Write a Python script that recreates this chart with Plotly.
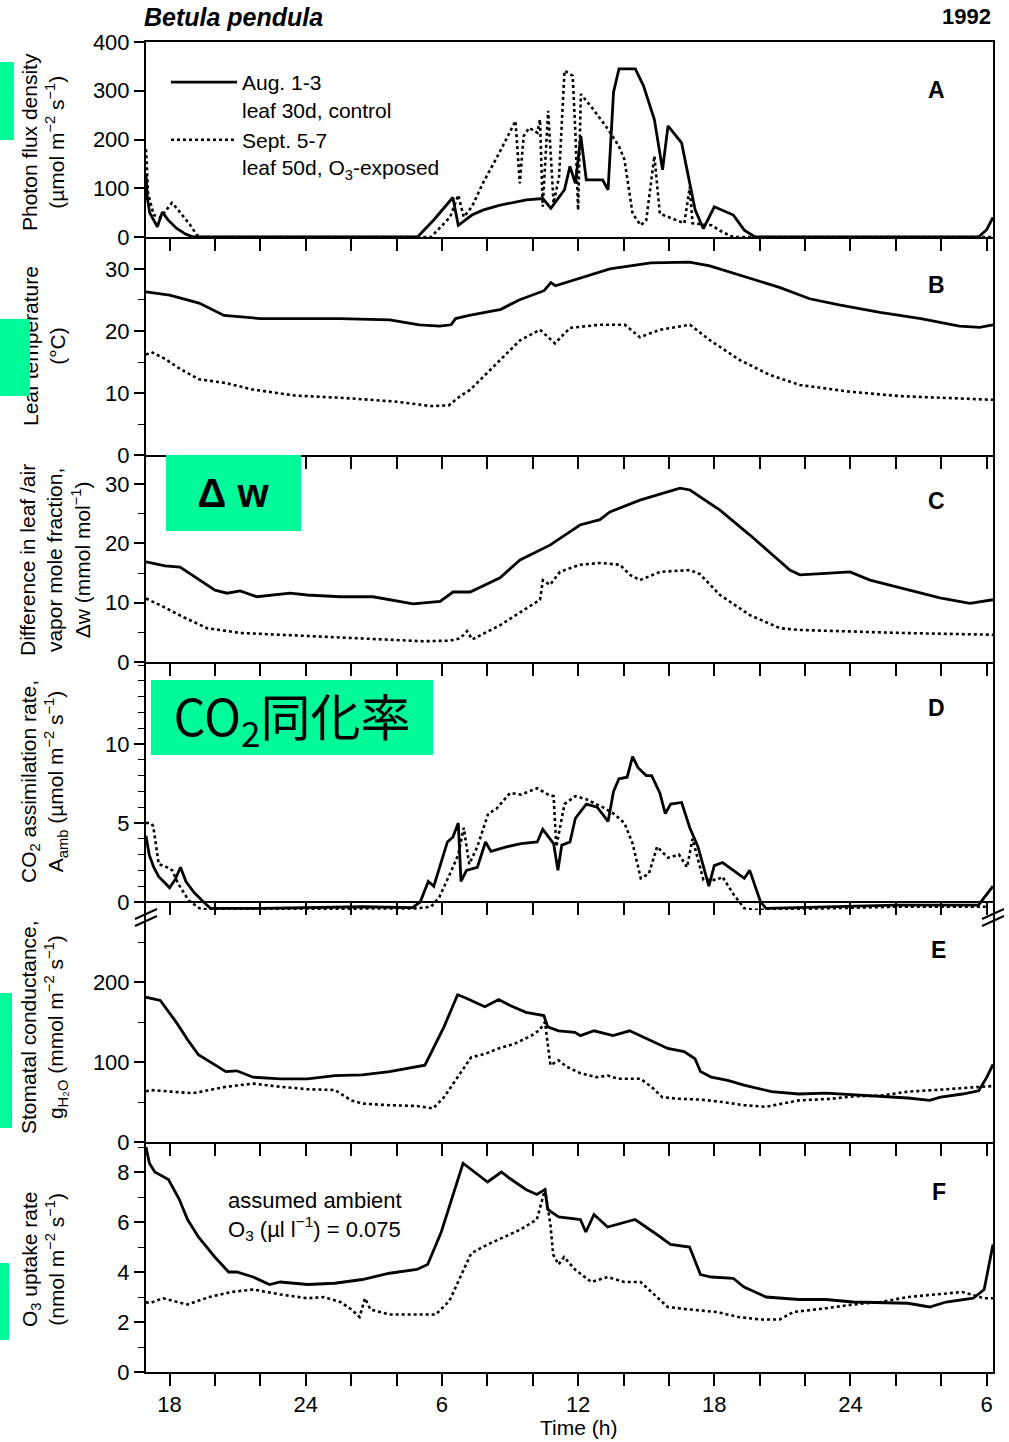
import plotly.graph_objects as go

# ---------------------------------------------------------------
# Betula pendula, diurnal courses 1992 (hours counted from midnight of day 1)
# ---------------------------------------------------------------
HOUR_TICKS = [18, 24, 30, 36, 42, 48, 54]
HOUR_LABELS = ["18", "24", "6", "12", "18", "24", "6"]

# A: photon flux density (umol m-2 s-1)
pfd_aug_t = [16.96, 17.02, 17.12, 17.46, 17.68, 17.93, 18.3, 18.7, 19.05, 28.92, 29.64, 30.48, 30.72,
             31.32, 31.80, 32.52, 33.72, 34.44, 34.80, 35.04, 35.40, 35.64, 35.88, 36.12, 36.36, 37.08,
             37.32, 37.56, 37.80, 38.52, 38.88, 39.36, 39.72, 39.96, 40.56, 40.92, 41.16, 41.52, 42.00,
             42.84, 43.32, 43.80, 53.64, 54.00, 54.28]
pfd_aug = [127, 80, 50, 21, 51, 35, 18, 6, 0, 0, 35, 81, 24,
           45, 55, 65, 76, 79, 59, 75, 97, 145, 110, 207, 117, 117,
           97, 297, 345, 345, 310, 241, 138, 228, 193, 110, 55, 17, 62,
           45, 14, 0, 0, 15, 40]
pfd_sep_t = [16.96, 17.05, 17.3, 17.6, 17.85, 18.1, 18.3, 18.5, 18.9, 19.2, 19.4, 29.52, 30.36, 30.72,
             30.96, 31.32, 31.80, 32.52, 33.24, 33.43, 33.60, 33.84, 34.20, 34.32, 34.44, 34.68, 34.92,
             35.16, 35.40, 35.76, 35.88, 36.00, 36.12, 36.60, 37.32, 37.80, 38.04, 38.40, 38.76, 39.00,
             39.36, 39.60, 39.96, 40.68, 40.92, 41.04, 41.88, 42.36, 42.84, 54.28]
pfd_sep = [180, 90, 45, 40, 55, 70, 60, 49, 25, 4, 0, 0, 41, 86,
           41, 62, 110, 172, 238, 110, 207, 224, 214, 241, 62, 259, 69,
           124, 341, 331, 214, 55, 293, 266, 221, 186, 159, 48, 24, 34,
           166, 48, 41, 28, 103, 28, 24, 10, 0, 0]

# B: leaf temperature (deg C)
tleaf_aug_t = [16.96, 18.0, 19.3, 20.4, 22.0, 23.7, 25.5, 27.7, 29.0, 29.9, 30.4, 30.6, 31.2, 32.6,
               33.4, 34.5, 34.8, 35.0, 35.9, 37.4, 39.2, 40.9, 41.8, 43.1, 44.9, 46.2, 47.5, 49.3,
               51.1, 52.8, 53.7, 54.28]
tleaf_aug = [26.3, 25.8, 24.5, 22.5, 22.0, 22.0, 22.0, 21.8, 21.0, 20.8, 21.0, 22.0, 22.5, 23.5,
             25.0, 26.5, 27.8, 27.3, 28.3, 30.0, 31.0, 31.1, 30.5, 29.0, 27.0, 25.2, 24.2, 23.0,
             22.0, 20.8, 20.6, 21.0]
tleaf_sep_t = [16.96, 17.2, 17.8, 18.5, 19.3, 20.5, 21.6, 23.5, 25.7, 28.0, 29.5, 30.3, 30.8, 31.24,
               32.56, 33.44, 34.32, 34.98, 35.64, 36.96, 38.06, 38.72, 39.61, 40.93, 41.81, 43.13,
               44.45, 45.77, 47.98, 50.18, 54.28]
tleaf_sep = [16.2, 16.6, 15.5, 13.8, 12.2, 11.6, 10.6, 9.6, 9.2, 8.6, 7.9, 8.0, 9.5, 10.5,
             15.3, 18.5, 20.2, 18.0, 20.5, 21.0, 21.0, 19.0, 20.2, 21.0, 18.5, 15.3,
             12.9, 11.3, 10.2, 9.5, 8.9]

# C: leaf/air vapour mole fraction difference (mmol mol-1)
dw_aug_t = [16.96, 17.80, 18.46, 19.34, 20.00, 20.53, 21.11, 21.85, 23.31, 24.06, 25.51, 26.96, 27.27,
            28.73, 29.92, 30.49, 31.24, 32.56, 33.44, 34.76, 36.08, 36.96, 37.40, 38.72, 40.49, 40.93,
            42.25, 43.57, 45.33, 45.77, 47.09, 47.98, 48.86, 50.18, 51.94, 53.26, 54.28]
dw_aug = [16.9, 16.2, 16.0, 13.8, 12.1, 11.6, 12.0, 11.0, 11.6, 11.3, 11.0, 11.0, 10.8,
          9.8, 10.2, 11.8, 11.8, 14.2, 17.2, 19.7, 23.1, 24.0, 25.3, 27.3, 29.3, 29.0,
          25.6, 21.4, 15.5, 14.7, 15.0, 15.2, 13.8, 12.5, 10.8, 9.9, 10.5]
dw_sep_t = [16.96, 17.58, 18.59, 19.65, 21.11, 24.06, 26.96, 29.17, 30.36, 30.80, 31.11, 31.33, 32.56,
            33.44, 34.32, 34.45, 34.76, 35.20, 36.08, 36.96, 37.84, 38.28, 38.72, 39.61, 40.93, 41.37,
            42.25, 43.57, 44.89, 45.77, 47.98, 50.18, 54.28]
dw_sep = [10.7, 9.6, 7.6, 5.7, 4.9, 4.4, 4.0, 3.5, 3.6, 4.0, 5.2, 3.8, 6.2,
          8.4, 10.5, 13.8, 13.0, 15.2, 16.4, 16.7, 16.4, 14.7, 13.8, 15.2, 15.5, 14.8,
          11.3, 7.9, 5.7, 5.4, 5.1, 4.9, 4.6]

# D: CO2 assimilation rate A_amb (umol m-2 s-1)
aco2_aug_t = [16.96, 17.1, 17.3, 17.52, 17.8, 18.0, 18.24, 18.48, 18.72, 19.08, 19.5, 19.8, 22.0, 26.5,
              28.7, 29.04, 29.4, 29.64, 30.24, 30.48, 30.72, 30.84, 31.08, 31.56, 31.92, 32.16, 32.88,
              33.48, 34.2, 34.44, 34.92, 35.11, 35.28, 35.64, 35.88, 36.36, 36.84, 37.32, 37.56, 37.8,
              38.16, 38.4, 38.64, 39.0, 39.24, 39.6, 39.84, 40.08, 40.56, 40.92, 41.28, 41.76, 42.0,
              42.36, 42.84, 43.32, 43.56, 43.8, 44.04, 44.28, 50.04, 53.64, 54.0, 54.28]
aco2_aug = [4.2, 3.0, 2.2, 1.6, 1.2, 0.9, 1.4, 2.2, 1.3, 0.6, 0.0, -0.4, -0.4, -0.3,
            -0.35, 0.0, 1.3, 1.0, 3.8, 4.1, 5.0, 1.3, 2.0, 2.2, 3.8, 3.2, 3.5,
            3.7, 3.8, 4.6, 3.7, 2.0, 3.6, 3.8, 5.3, 6.2, 6.0, 5.1, 7.0, 7.8,
            7.9, 9.2, 8.5, 8.0, 8.0, 6.9, 5.6, 6.2, 6.3, 4.7, 3.5, 1.0, 2.3,
            2.5, 2.0, 1.5, 2.0, 1.0, 0.0, -0.4, -0.2, -0.2, 0.5, 1.0]
aco2_sep_t = [16.96, 17.16, 17.28, 17.52, 17.88, 18.12, 18.36, 18.84, 19.32, 19.8, 21.0, 28.9, 29.52,
              29.88, 30.36, 30.72, 30.96, 31.2, 31.56, 32.04, 32.4, 33.0, 33.48, 34.2, 34.68, 34.92,
              35.04, 35.4, 35.88, 36.36, 37.08, 37.56, 38.04, 38.4, 38.76, 39.12, 39.48, 39.96, 40.44,
              40.8, 41.04, 41.28, 41.52, 42.12, 42.36, 42.84, 43.32, 43.8, 50.0, 54.0]
aco2_sep = [5.0, 5.0, 4.8, 2.4, 2.2, 2.0, 1.2, 0.1, -0.4, -0.5, -0.45, -0.4, -0.3,
            0.3, 1.8, 3.0, 4.7, 2.4, 3.5, 5.6, 5.9, 6.9, 6.8, 7.2, 6.8, 6.7,
            3.5, 6.2, 6.7, 6.5, 6.0, 5.6, 5.0, 3.7, 1.5, 1.8, 3.5, 2.8, 3.0,
            2.2, 4.0, 2.7, 1.4, 1.4, 1.6, 0.5, -0.4, -0.5, -0.3, -0.3]

# E: stomatal conductance g_H2O (mmol m-2 s-1)
gs_aug_t = [16.96, 17.11, 17.59, 18.31, 18.79, 19.27, 20.48, 20.96, 21.68, 22.88, 24.08, 25.28, 26.49,
            27.69, 28.41, 29.25, 30.09, 30.69, 31.05, 31.29, 31.89, 32.50, 32.98, 33.70, 34.18, 34.49,
            34.66, 35.14, 35.86, 36.10, 36.70, 37.54, 38.27, 38.75, 39.23, 39.95, 40.67, 41.15, 41.39,
            41.87, 42.59, 43.31, 44.52, 45.72, 46.92, 48.12, 49.33, 50.53, 51.49, 51.97, 52.93, 53.65,
            54.01, 54.28]
gs_aug = [181, 180, 177, 149, 128, 109, 88, 89, 81, 79, 79, 83, 84,
          88, 92, 96, 144, 184, 180, 177, 169, 178, 171, 162, 159, 158,
          144, 139, 137, 133, 139, 133, 139, 133, 127, 117, 113, 104, 88,
          81, 77, 71, 63, 60, 61, 59, 57, 55, 52, 56, 60, 64,
          81, 97]
gs_sep_t = [16.96, 17.11, 18.07, 19.03, 20.48, 21.68, 22.88, 24.08, 25.28, 26.01, 26.49, 27.69, 28.89,
            29.61, 30.09, 30.81, 31.29, 31.89, 32.50, 33.22, 33.94, 34.30, 34.54, 34.66, 34.78, 35.14,
            35.50, 36.10, 36.82, 37.30, 37.79, 38.75, 39.23, 39.71, 40.43, 41.39, 42.35, 43.31, 44.28,
            45.00, 45.72, 47.16, 48.12, 49.33, 50.53, 51.73, 52.93, 53.89, 54.28]
gs_sep = [63, 65, 63, 61, 69, 73, 69, 66, 65, 52, 48, 46, 45,
          42, 56, 86, 106, 110, 117, 123, 133, 140, 150, 123, 96, 102,
          94, 86, 81, 83, 79, 79, 69, 56, 54, 53, 50, 46, 44,
          48, 52, 54, 57, 58, 63, 65, 67, 69, 70]

# F: O3 uptake rate (nmol m-2 s-1)
o3_aug_t = [16.96, 17.11, 17.35, 17.95, 18.43, 18.79, 19.27, 19.99, 20.60, 20.96, 21.68, 22.40, 22.88,
            24.08, 25.28, 26.49, 27.69, 28.89, 29.37, 29.97, 30.93, 31.29, 32.01, 32.62, 32.98, 33.70,
            34.18, 34.54, 34.66, 35.14, 36.10, 36.34, 36.70, 37.30, 38.51, 39.47, 40.07, 40.91, 41.39,
            41.87, 42.83, 43.31, 44.28, 45.72, 46.92, 48.12, 49.33, 50.53, 51.49, 52.21, 53.41, 53.89,
            54.28]
o3_aug = [9.0, 8.35, 8.0, 7.7, 6.9, 6.1, 5.4, 4.6, 4.0, 4.0, 3.8, 3.5, 3.6,
          3.5, 3.55, 3.7, 3.95, 4.1, 4.3, 5.6, 8.35, 8.1, 7.6, 8.0, 7.75, 7.3,
          7.1, 7.3, 6.5, 6.2, 6.1, 5.6, 6.3, 5.8, 6.1, 5.5, 5.1, 5.0, 3.9,
          3.8, 3.75, 3.4, 3.0, 2.9, 2.9, 2.8, 2.78, 2.75, 2.6, 2.8, 2.95, 3.3,
          5.1]
o3_sep_t = [16.96, 17.11, 17.71, 18.79, 19.75, 20.72, 21.68, 22.88, 24.08, 24.80, 25.52, 26.01, 26.37,
            26.61, 26.85, 27.69, 28.89, 29.73, 30.33, 31.29, 32.01, 32.74, 33.46, 34.18, 34.54, 34.78,
            34.90, 35.14, 35.38, 35.86, 36.58, 37.30, 38.03, 38.75, 39.47, 39.95, 40.91, 42.11, 43.07,
            44.04, 44.88, 45.48, 46.92, 48.12, 49.33, 50.53, 51.73, 52.93, 53.89, 54.28]
o3_sep = [2.8, 2.75, 2.95, 2.7, 3.0, 3.2, 3.3, 3.1, 2.95, 3.0, 2.8, 2.5, 2.2,
          2.95, 2.5, 2.3, 2.3, 2.3, 2.85, 4.75, 5.1, 5.4, 5.7, 6.1, 7.3, 5.9,
          4.7, 4.3, 4.6, 4.1, 3.6, 3.8, 3.6, 3.6, 3.0, 2.6, 2.5, 2.4, 2.2,
          2.1, 2.1, 2.4, 2.55, 2.7, 2.8, 3.0, 3.1, 3.2, 2.95, 2.95]

SERIES_NAMES = ["Aug. 1-3<br>leaf 30d, control", "Sept. 5-7<br>leaf 50d, O<sub>3</sub>-exposed"]

panels = [
    (pfd_aug_t, pfd_aug, pfd_sep_t, pfd_sep),
    (tleaf_aug_t, tleaf_aug, tleaf_sep_t, tleaf_sep),
    (dw_aug_t, dw_aug, dw_sep_t, dw_sep),
    (aco2_aug_t, aco2_aug, aco2_sep_t, aco2_sep),
    (gs_aug_t, gs_aug, gs_sep_t, gs_sep),
    (o3_aug_t, o3_aug, o3_sep_t, o3_sep),
]

# ---- page geometry (pixels) ----
W, H = 1009, 1442
L, R, T, B = 146, 993, 42, 1372


def px(x):
    return (x - L) / (R - L)


def py(y):
    return (B - y) / (B - T)


# panel frames, top -> bottom (pixel rows)
frames = [(42, 237), (237, 455), (455, 662), (662, 910), (910, 1142), (1142, 1372)]
yranges = [[0, 400], [0, 35.16], [0, 34.9], [-0.506, 15.19], [0, 290], [0, 9.2]]
ymajor = [[0, 100, 200, 300, 400], [0, 10, 20, 30], [0, 10, 20, 30], [0, 5, 10], [0, 100, 200],
          [0, 2, 4, 6, 8]]
yminor = [None, 5, 5, 1, 50, 1]

FONT = "Liberation Sans, Arial, Helvetica, sans-serif"
INK = "#000000"
MINT = "#00FA9A"
FS = 21

fig = go.Figure()

for i, (ta, va, ts, vs) in enumerate(panels):
    n = i + 1
    xa = "x" if n == 1 else f"x{n}"
    ya = "y" if n == 1 else f"y{n}"
    fig.add_trace(go.Scatter(x=ta, y=va, mode="lines", xaxis=xa, yaxis=ya,
                             name=SERIES_NAMES[0], legendgroup="aug", showlegend=(n == 1),
                             line=dict(color=INK, width=2.8)))
    fig.add_trace(go.Scatter(x=ts, y=vs, mode="lines", xaxis=xa, yaxis=ya,
                             name=SERIES_NAMES[1], legendgroup="sep", showlegend=(n == 1),
                             line=dict(color=INK, width=2.6, dash="dot")))

layout = dict(
    width=W, height=H,
    margin=dict(l=L, r=W - R, t=T, b=H - B, pad=0),
    paper_bgcolor="white", plot_bgcolor="white",
    font=dict(family=FONT, size=FS, color=INK),
    showlegend=True,
    legend=dict(x=px(166), y=py(62), xanchor="left", yanchor="top",
                bgcolor="rgba(0,0,0,0)", font=dict(size=FS, family=FONT, color=INK),
                valign="top", itemwidth=66, tracegroupgap=0, itemclick=False),
)

for i in range(6):
    n = i + 1
    key = "" if n == 1 else str(n)
    top, bot = frames[i]
    dom = [py(bot), py(top)]
    xaxis = dict(domain=[0, 1], range=[16.96, 54.28], anchor=f"y{key}",
                 tickmode="array", tickvals=HOUR_TICKS, ticktext=HOUR_LABELS,
                 showticklabels=(n == 6), ticks="outside", ticklen=12, tickwidth=1.6,
                 tickcolor=INK, showline=True, linewidth=2, linecolor=INK,
                 minor=dict(ticks="outside", ticklen=12, tickwidth=1.6, tickcolor=INK,
                            tickmode="linear", tick0=0, dtick=2),
                 showgrid=False, zeroline=False, mirror=(n == 1),
                 tickfont=dict(size=22, color=INK))
    if n != 1:
        xaxis["matches"] = "x"
    if n == 4:
        # the assimilation panel sits on its zero line; the curves may dip below it
        xaxis["anchor"] = "free"
        xaxis["position"] = py(902)
    layout[f"xaxis{key}"] = xaxis

    minor = dict(ticks="outside", ticklen=6, tickwidth=1.3, tickcolor=INK,
                 tickmode="linear", tick0=0, dtick=yminor[i]) if yminor[i] else None
    yaxis = dict(domain=dom, range=yranges[i], anchor=f"x{key}",
                 tickmode="array", tickvals=ymajor[i], ticks="outside", ticklen=10,
                 tickwidth=1.6, tickcolor=INK, showline=True, linewidth=2, linecolor=INK,
                 mirror=True, showgrid=False, zeroline=False,
                 tickfont=dict(size=22, color=INK))
    if minor:
        yaxis["minor"] = minor
    layout[f"yaxis{key}"] = yaxis

    # right-hand ticks pointing into the panel
    rminor = dict(ticks="inside", ticklen=6, tickwidth=1.3, tickcolor=INK,
                  tickmode="linear", tick0=0, dtick=yminor[i]) if yminor[i] else None
    ry = dict(domain=dom, range=yranges[i], overlaying=f"y{key}", side="right",
              anchor=f"x{key}", tickmode="array", tickvals=ymajor[i], ticks="inside",
              ticklen=10, tickwidth=1.6, tickcolor=INK, showticklabels=False,
              showline=False, showgrid=False, zeroline=False)
    if rminor:
        ry["minor"] = rminor
    layout[f"yaxis{n + 6}"] = ry

fig.update_layout(**layout)

ann = []


def text(x, y, s, size=FS, xanchor="center", yanchor="middle", angle=0, align="center", family=FONT):
    ann.append(dict(x=px(x), y=py(y), xref="paper", yref="paper", text=s, showarrow=False,
                    xanchor=xanchor, yanchor=yanchor, textangle=angle, align=align,
                    font=dict(size=size, family=family, color=INK)))


text(142, 17, "<b><i>Betula pendula</i></b>", size=25, xanchor="left")
text(993, 16, "<b>1992</b>", size=22, xanchor="right")

for letter, (lx, ly) in zip("ABCDEF", [(936, 90), (936, 285), (936, 501), (936, 708), (938, 950), (939, 1192)]):
    text(lx, ly, f"<b>{letter}</b>", size=23)

# y-axis titles
text(43, 142, "Photon flux density<br>(µmol m<sup>−2</sup> s<sup>−1</sup>)", angle=-90)
text(44, 346, "Leaf temperature<br>(°C)", angle=-90)
text(55, 560, "Difference in leaf /air<br>vapor mole fraction,<br>Δw (mmol mol<sup>−1</sup>)", angle=-90)
text(44, 782, "CO<sub>2</sub> assimilation rate,<br>A<sub>amb</sub> (µmol m<sup>−2</sup> s<sup>−1</sup>)",
     angle=-90)
text(44, 1027, "Stomatal conductance,<br>g<sub>H₂O</sub> (mmol m<sup>−2</sup> s<sup>−1</sup>)", angle=-90)
text(43, 1260, "O<sub>3</sub> uptake rate<br>(nmol m<sup>−2</sup> s<sup>−1</sup>)", angle=-90)

text(226, 1216, "assumed ambient<br>O<sub>3</sub> (µl l<sup>−1</sup>) = 0.075", size=22, xanchor="left",
     align="left")
text(578, 1428, "Time (h)", size=21)


def mint_box(x0, y0, x1, y1, s=" ", size=20, family=FONT):
    ann.append(dict(x=px(x0), y=py(y0), xref="paper", yref="paper", xanchor="left", yanchor="top",
                    width=x1 - x0, height=y1 - y0, bgcolor=MINT, borderpad=0, borderwidth=0,
                    text=s, showarrow=False, align="center", valign="middle",
                    font=dict(size=size, family=family, color=INK)))


mint_box(0, 62, 14, 140)
mint_box(0, 319, 30, 396)
mint_box(0, 993, 12, 1128)
mint_box(0, 1263, 9, 1340)
mint_box(166, 455, 301, 531, "<b>Δ w</b>", size=40)
mint_box(151, 680, 433, 755, "CO<sub>2</sub>同化率", size=50, family="Noto Sans CJK JP")

fig.update_layout(annotations=ann)

# axis-break marks between the assimilation and conductance panels
shapes = []
for xa_ in (0, 1):
    for yb in (914, 921):
        shapes.append(dict(type="line", xref="paper", yref="paper", xsizemode="pixel",
                           ysizemode="pixel", xanchor=xa_, yanchor=py(yb), x0=-11, x1=11, y0=-5, y1=5,
                           line=dict(color=INK, width=2)))
fig.update_layout(shapes=shapes)

fig.write_html("out.html")
